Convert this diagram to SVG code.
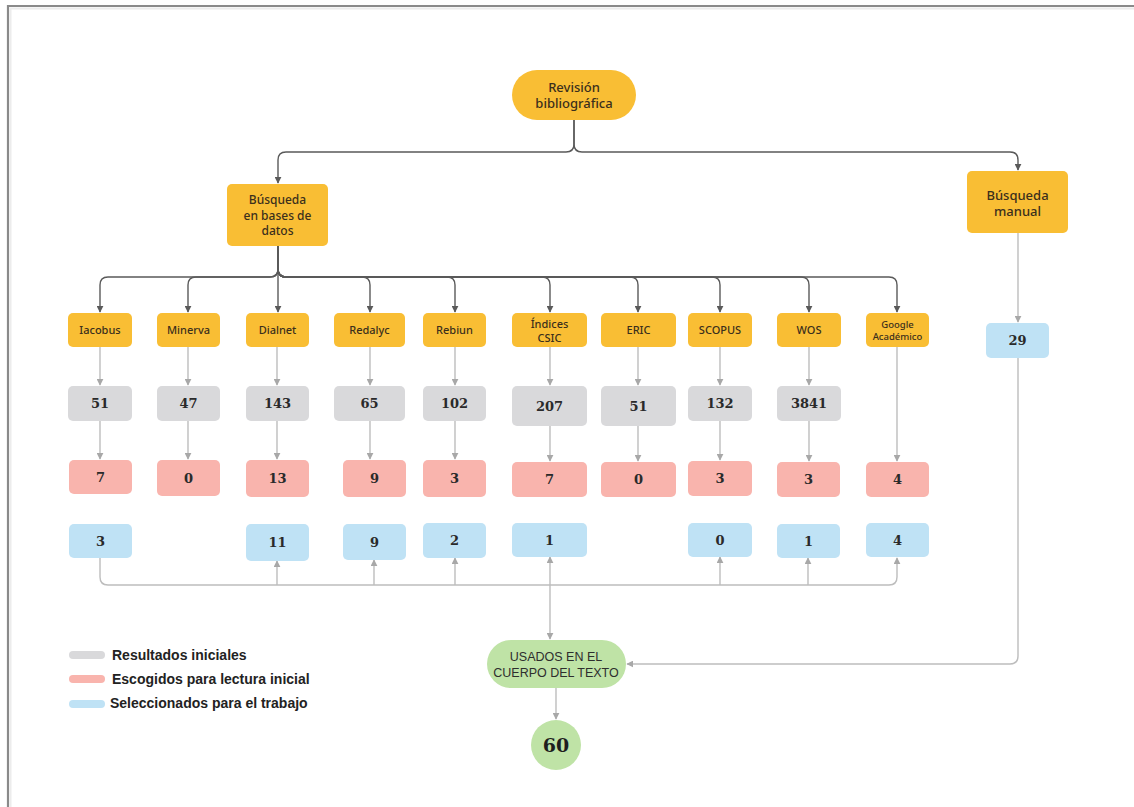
<svg xmlns="http://www.w3.org/2000/svg" width="1134" height="807" viewBox="0 0 1134 807">
<style>
.y{fill:#F9BE34}
.g{fill:#D9D9DB}
.p{fill:#F9B4AD}
.b{fill:#BFE2F5}
.gr{fill:#BFE3A6}
.t{font-family:"Noto Sans","Lato",sans-serif;font-weight:500;fill:#3b2f1c;text-anchor:middle}
.n{font-family:"DejaVu Serif","Liberation Serif",serif;font-weight:bold;font-size:13px;fill:#2a2a2a;text-anchor:middle}
.l{font-family:"Liberation Sans",Arial,sans-serif;font-weight:bold;font-size:14px;fill:#222}
.u{font-family:"Liberation Sans Narrow","Liberation Sans",Arial,sans-serif;font-size:12.5px;fill:#2e2e2e;text-anchor:middle}
.dk{fill:none;stroke:#5a5a5a;stroke-width:1.4}
.lt{fill:none;stroke:#BDBDBD;stroke-width:1.4}
</style>
<defs>
<marker id="ad" viewBox="0 0 10 10" refX="9" refY="5" markerWidth="7" markerHeight="7" orient="auto" markerUnits="userSpaceOnUse"><path d="M0,0 L10,5 L0,10 z" fill="#5a5a5a"/></marker>
<marker id="al" viewBox="0 0 10 10" refX="9" refY="5" markerWidth="7" markerHeight="7" orient="auto" markerUnits="userSpaceOnUse"><path d="M0,0 L10,5 L0,10 z" fill="#A8A8A8"/></marker>
</defs>
<rect width="1134" height="807" fill="#fff"/>
<path d="M8 807 V6 H1134" fill="none" stroke="#8a8a8a" stroke-width="2.2"/>
<path d="M10.5 807 V8.5 H1134" fill="none" stroke="#ececec" stroke-width="2"/>

<g id="connectors">
<path class="dk" d="M574 120 V144 Q574 152 566 152 H286 Q278 152 278 160 V183" marker-end="url(#ad)"/>
<path class="dk" d="M574 120 V144 Q574 152 582 152 H1010 Q1018 152 1018 160 V170" marker-end="url(#ad)"/>
<path class="dk" d="M278 246 V269 Q278 277 270 277 H108 Q100 277 100 285 V312" marker-end="url(#ad)"/>
<path class="dk" d="M278 246 V269 Q278 277 270 277 H196 Q188 277 188 285 V312" marker-end="url(#ad)"/>
<path class="dk" d="M278 246 V312" marker-end="url(#ad)"/>
<path class="dk" d="M278 246 V269 Q278 277 286 277 H362 Q370 277 370 285 V312" marker-end="url(#ad)"/>
<path class="dk" d="M278 246 V269 Q278 277 286 277 H447 Q455 277 455 285 V312" marker-end="url(#ad)"/>
<path class="dk" d="M278 246 V269 Q278 277 286 277 H542 Q550 277 550 285 V312" marker-end="url(#ad)"/>
<path class="dk" d="M278 246 V269 Q278 277 286 277 H630 Q638 277 638 285 V312" marker-end="url(#ad)"/>
<path class="dk" d="M278 246 V269 Q278 277 286 277 H712 Q720 277 720 285 V312" marker-end="url(#ad)"/>
<path class="dk" d="M278 246 V269 Q278 277 286 277 H801 Q809 277 809 285 V312" marker-end="url(#ad)"/>
<path class="dk" d="M278 246 V269 Q278 277 286 277 H889 Q897 277 897 285 V312" marker-end="url(#ad)"/>

<path class="lt" d="M100 347 V385" marker-end="url(#al)"/>
<path class="lt" d="M188 347 V385" marker-end="url(#al)"/>
<path class="lt" d="M277 347 V385" marker-end="url(#al)"/>
<path class="lt" d="M370 347 V385" marker-end="url(#al)"/>
<path class="lt" d="M455 347 V385" marker-end="url(#al)"/>
<path class="lt" d="M550 347 V385" marker-end="url(#al)"/>
<path class="lt" d="M638 347 V385" marker-end="url(#al)"/>
<path class="lt" d="M720 347 V385" marker-end="url(#al)"/>
<path class="lt" d="M809 347 V385" marker-end="url(#al)"/>
<path class="lt" d="M897 347 V461" marker-end="url(#al)"/>

<path class="lt" d="M100 421 V459" marker-end="url(#al)"/>
<path class="lt" d="M188 421 V459" marker-end="url(#al)"/>
<path class="lt" d="M277 421 V459" marker-end="url(#al)"/>
<path class="lt" d="M370 421 V459" marker-end="url(#al)"/>
<path class="lt" d="M455 421 V459" marker-end="url(#al)"/>
<path class="lt" d="M550 426 V461" marker-end="url(#al)"/>
<path class="lt" d="M638 426 V461" marker-end="url(#al)"/>
<path class="lt" d="M720 421 V460" marker-end="url(#al)"/>
<path class="lt" d="M809 421 V461" marker-end="url(#al)"/>

<path class="lt" d="M100 558 V577 Q100 585 108 585 H889 Q897 585 897 577 V558" marker-end="url(#al)"/>
<path class="lt" d="M277 585 V561" marker-end="url(#al)"/>
<path class="lt" d="M374 585 V560" marker-end="url(#al)"/>
<path class="lt" d="M455 585 V558" marker-end="url(#al)"/>
<path class="lt" d="M550 585 V557" marker-end="url(#al)"/>
<path class="lt" d="M720 585 V557" marker-end="url(#al)"/>
<path class="lt" d="M808 585 V558" marker-end="url(#al)"/>
<path class="lt" d="M550 585 V639" marker-end="url(#al)"/>

<path class="lt" d="M1018 233 V322" marker-end="url(#al)"/>
<path class="lt" d="M1018 358 V656 Q1018 664 1010 664 H627" marker-end="url(#al)"/>
<path class="lt" d="M556 688 V719" marker-end="url(#al)"/>
</g>

<g id="revision"><rect class="y" x="512" y="70" width="124" height="50" rx="25"/><text class="t" font-size="13" x="574" y="92">Revisión</text><text class="t" font-size="13" x="574" y="108">bibliográfica</text></g>
<g id="busqueda-bases"><rect class="y" x="227" y="184" width="101" height="62" rx="5"/><text class="t" font-size="12" x="277.5" y="204">Búsqueda</text><text class="t" font-size="12" x="277.5" y="219.5">en bases de</text><text class="t" font-size="12" x="277.5" y="235">datos</text></g>
<g id="busqueda-manual"><rect class="y" x="967" y="171" width="101" height="62" rx="5"/><text class="t" font-size="13" x="1017.5" y="200">Búsqueda</text><text class="t" font-size="13" x="1017.5" y="216">manual</text></g>

<g id="iacobus"><rect class="y" x="68" y="313" width="64" height="34" rx="5"/><text class="t" font-size="11" x="100" y="334">Iacobus</text></g>
<g id="minerva"><rect class="y" x="157" y="313" width="63" height="34" rx="5"/><text class="t" font-size="11" x="188.5" y="334">Minerva</text></g>
<g id="dialnet"><rect class="y" x="246" y="313" width="63" height="34" rx="5"/><text class="t" font-size="11" x="277.5" y="334">Dialnet</text></g>
<g id="redalyc"><rect class="y" x="334" y="313" width="71" height="34" rx="5"/><text class="t" font-size="11" x="369.5" y="334">Redalyc</text></g>
<g id="rebiun"><rect class="y" x="423" y="313" width="63" height="34" rx="5"/><text class="t" font-size="11" x="454.5" y="334">Rebiun</text></g>
<g id="indices-csic"><rect class="y" x="512" y="313" width="75" height="34" rx="5"/><text class="t" font-size="11" x="549.5" y="328">Índices</text><text class="t" font-size="11" x="549.5" y="342">CSIC</text></g>
<g id="eric"><rect class="y" x="601" y="313" width="75" height="34" rx="5"/><text class="t" font-size="11" x="638.5" y="334">ERIC</text></g>
<g id="scopus"><rect class="y" x="688" y="313" width="64" height="34" rx="5"/><text class="t" font-size="11" x="720" y="334">SCOPUS</text></g>
<g id="wos"><rect class="y" x="777" y="313" width="64" height="34" rx="5"/><text class="t" font-size="11" x="809" y="334">WOS</text></g>
<g id="google"><rect class="y" x="866" y="313" width="63" height="34" rx="5"/><text class="t" font-size="9.5" x="897.5" y="328">Google</text><text class="t" font-size="9.5" x="897.5" y="340">Académico</text></g>

<g id="g-iacobus"><rect class="g" x="68" y="386" width="64" height="35" rx="5"/><text class="n" x="100" y="408">51</text></g>
<g id="g-minerva"><rect class="g" x="157" y="386" width="63" height="35" rx="5"/><text class="n" x="188.5" y="408">47</text></g>
<g id="g-dialnet"><rect class="g" x="246" y="386" width="63" height="35" rx="5"/><text class="n" x="277.5" y="408">143</text></g>
<g id="g-redalyc"><rect class="g" x="334" y="386" width="71" height="35" rx="5"/><text class="n" x="369.5" y="408">65</text></g>
<g id="g-rebiun"><rect class="g" x="423" y="386" width="63" height="35" rx="5"/><text class="n" x="454.5" y="408">102</text></g>
<g id="g-indices"><rect class="g" x="512" y="386" width="75" height="40" rx="5"/><text class="n" x="549.5" y="411">207</text></g>
<g id="g-eric"><rect class="g" x="601" y="386" width="75" height="40" rx="5"/><text class="n" x="638.5" y="411">51</text></g>
<g id="g-scopus"><rect class="g" x="688" y="386" width="64" height="35" rx="5"/><text class="n" x="720" y="408">132</text></g>
<g id="g-wos"><rect class="g" x="777" y="386" width="64" height="35" rx="5"/><text class="n" x="809" y="408">3841</text></g>

<g id="p-iacobus"><rect class="p" x="69" y="460" width="63" height="34" rx="5"/><text class="n" x="100.5" y="482">7</text></g>
<g id="p-minerva"><rect class="p" x="157" y="460" width="63" height="36" rx="5"/><text class="n" x="188.5" y="483">0</text></g>
<g id="p-dialnet"><rect class="p" x="246" y="460" width="63" height="37" rx="5"/><text class="n" x="277.5" y="483">13</text></g>
<g id="p-redalyc"><rect class="p" x="343" y="460" width="63" height="37" rx="5"/><text class="n" x="374.5" y="483">9</text></g>
<g id="p-rebiun"><rect class="p" x="423" y="460" width="63" height="37" rx="5"/><text class="n" x="454.5" y="483">3</text></g>
<g id="p-indices"><rect class="p" x="512" y="462" width="75" height="35" rx="5"/><text class="n" x="549.5" y="484">7</text></g>
<g id="p-eric"><rect class="p" x="601" y="462" width="75" height="35" rx="5"/><text class="n" x="638.5" y="484">0</text></g>
<g id="p-scopus"><rect class="p" x="688" y="461" width="64" height="35" rx="5"/><text class="n" x="720" y="483">3</text></g>
<g id="p-wos"><rect class="p" x="777" y="462" width="63" height="35" rx="5"/><text class="n" x="808.5" y="484">3</text></g>
<g id="p-google"><rect class="p" x="866" y="462" width="63" height="35" rx="5"/><text class="n" x="897.5" y="484">4</text></g>

<g id="b-iacobus"><rect class="b" x="69" y="524" width="63" height="34" rx="5"/><text class="n" x="100.5" y="546">3</text></g>
<g id="b-dialnet"><rect class="b" x="246" y="524" width="63" height="37" rx="5"/><text class="n" x="277.5" y="547">11</text></g>
<g id="b-redalyc"><rect class="b" x="343" y="524" width="63" height="36" rx="5"/><text class="n" x="374.5" y="547">9</text></g>
<g id="b-rebiun"><rect class="b" x="423" y="523" width="63" height="35" rx="5"/><text class="n" x="454.5" y="545">2</text></g>
<g id="b-indices"><rect class="b" x="512" y="523" width="75" height="34" rx="5"/><text class="n" x="549.5" y="545">1</text></g>
<g id="b-scopus"><rect class="b" x="688" y="523" width="64" height="34" rx="5"/><text class="n" x="720" y="545">0</text></g>
<g id="b-wos"><rect class="b" x="777" y="524" width="63" height="34" rx="5"/><text class="n" x="808.5" y="546">1</text></g>
<g id="b-google"><rect class="b" x="866" y="523" width="63" height="34" rx="5"/><text class="n" x="897.5" y="545">4</text></g>
<g id="b-manual"><rect class="b" x="986" y="323" width="63" height="35" rx="5"/><text class="n" x="1017.5" y="345">29</text></g>

<g id="usados"><rect class="gr" x="487" y="640" width="139" height="48" rx="24"/><text class="u" x="556" y="661">USADOS EN EL</text><text class="u" x="556" y="677">CUERPO DEL TEXTO</text></g>
<g id="total"><circle class="gr" cx="556" cy="745" r="25"/><text x="556" y="752" font-family="DejaVu Serif,serif" font-weight="bold" font-size="19" fill="#1e1e1e" text-anchor="middle">60</text></g>

<g id="legend">
<rect x="69" y="651" width="36" height="8" rx="4" class="g"/>
<rect x="69" y="675" width="36" height="8" rx="4" class="p"/>
<rect x="69" y="700" width="36" height="8" rx="4" class="b"/>
<text class="l" x="112" y="660">Resultados iniciales</text>
<text class="l" x="112" y="684">Escogidos para lectura inicial</text>
<text class="l" x="110" y="708">Seleccionados para el trabajo</text>
</g>
</svg>
